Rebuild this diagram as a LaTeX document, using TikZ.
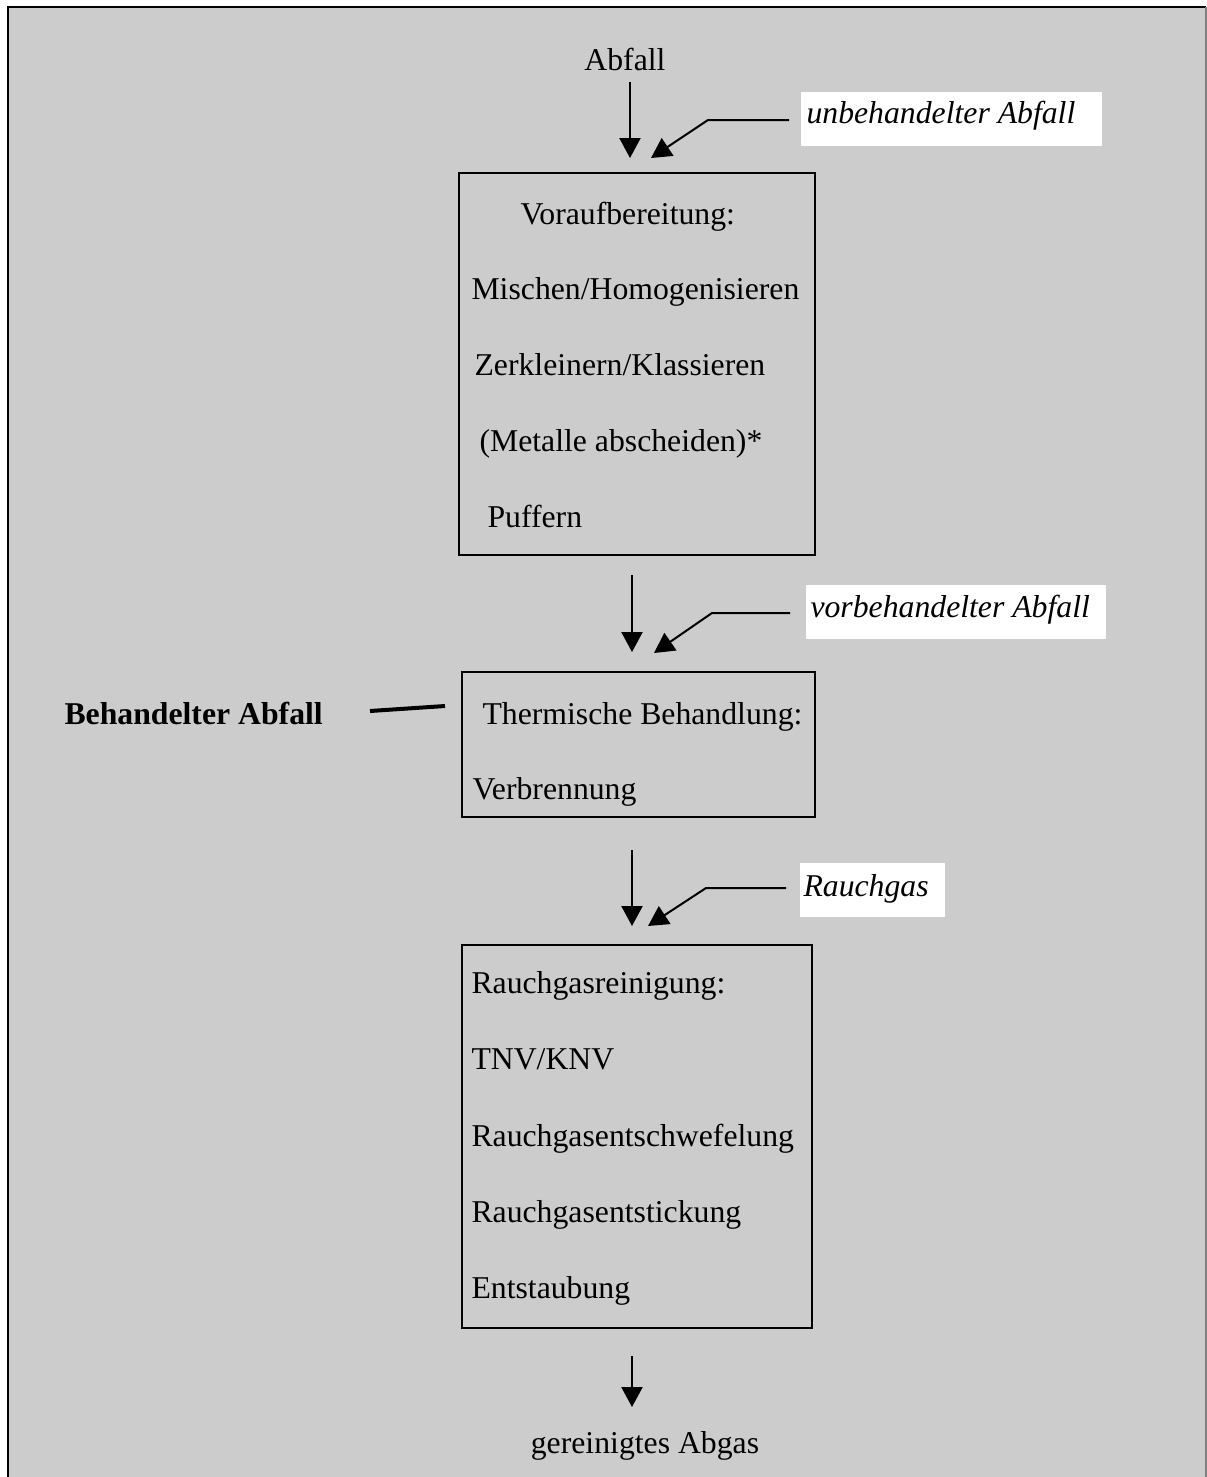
\documentclass[tikz,border=0pt]{standalone}
\usepackage{fontspec}
\setmainfont{Liberation Serif}
\usetikzlibrary{arrows.meta}
\definecolor{bggray}{RGB}{204,204,204}
\begin{document}
\begin{tikzpicture}[x=0.375pt,y=-0.375pt,
  txt/.style={anchor=base west,inner sep=0pt,font=\fontsize{11.9}{14}\selectfont},
  ctxt/.style={anchor=base,inner sep=0pt,font=\fontsize{11.9}{14}\selectfont},
  stage/.style={draw,line width=0.75pt,inner sep=0pt,outer sep=0pt,rectangle},
  labbox/.style={fill=white,inner sep=0pt,outer sep=0pt,minimum height=20.25pt},
  flow/.style={line width=0.75pt,-{Triangle[length=7.5pt,width=7.9pt]}},
  feed/.style={line width=0.75pt,-{Triangle[length=7.5pt,width=7.9pt]}}]
\useasboundingbox (0,0) rectangle (1207,1477);
\fill[white] (0,0) rectangle (1207,1477);
\fill[bggray] (8,7) rectangle (1207,1495);
\draw[line width=1.1pt] (8,1495) -- (8,7) -- (1206,7);
\draw[line width=0.4pt,gray] (1206,7) -- (1206,1495);

% stage boxes
\node[stage,minimum width=133.5pt,minimum height=143.25pt] (b1) at (637,364) {};
\node[stage,minimum width=132.4pt,minimum height=54.4pt] (b2) at (638.5,744.5) {};
\node[stage,minimum width=131.25pt,minimum height=143.6pt] (b3) at (637,1136.5) {};

% box 1 text
\node[txt] (t11) at (520,224) {Voraufbereitung:};
\node[txt] (t12) at (471,299) {Mischen/Homogenisieren};
\node[txt] (t13) at (474,375) {Zerkleinern/Klassieren};
\node[txt] (t14) at (479,451) {(Metalle abscheiden)*};
\node[txt] (t15) at (487,527) {Puffern};
% box 2 text
\node[txt] (t21) at (482,724) {Thermische Behandlung:};
\node[txt] (t22) at (472,799) {Verbrennung};
% box 3 text
\node[txt] (t31) at (471,993) {Rauchgasreinigung:};
\node[txt] (t32) at (471,1069) {TNV/KNV};
\node[txt] (t33) at (471,1146) {Rauchgasentschwefelung};
\node[txt] (t34) at (471,1222) {Rauchgasentstickung};
\node[txt] (t35) at (471,1298) {Entstaubung};

% outer texts
\node[ctxt] (abfall) at (625,70) {Abfall};
\node[ctxt] (abgas) at (645,1453) {gereinigtes Abgas};
\node[txt,font=\fontsize{11.9}{14}\selectfont\bfseries] (behand) at (64,724) {Behandelter Abfall};

% white label boxes
\node[labbox,minimum width=112.9pt] (l1) at (951.5,119) {};
\node[txt,font=\fontsize{11.9}{14}\selectfont\itshape] (l1t) at (806,123) {unbehandelter Abfall};
\node[labbox,minimum width=112.5pt] (l2) at (956,612) {};
\node[txt,font=\fontsize{11.9}{14}\selectfont\itshape] (l2t) at (810,617) {vorbehandelter Abfall};
\node[labbox,minimum width=54.4pt] (l3) at (872.5,890) {};
\node[txt,font=\fontsize{11.9}{14}\selectfont\itshape] (l3t) at (803,896) {Rauchgas};

% coordinates for arrows
\coordinate (v1s) at (630,82);  \coordinate (v1e) at (630,158);
\coordinate (v2s) at (632,575); \coordinate (v2e) at (632,652);
\coordinate (v3s) at (632,850); \coordinate (v3e) at (632,926);
\coordinate (v4s) at (632,1356); \coordinate (v4e) at (632,1407);

\coordinate (d1a) at (789,120); \coordinate (d1b) at (708,120); \coordinate (d1c) at (651,158);
\coordinate (d2a) at (790,613); \coordinate (d2b) at (712,613); \coordinate (d2c) at (654,653);
\coordinate (d3a) at (786,888); \coordinate (d3b) at (706,888); \coordinate (d3c) at (648,926);

\coordinate (ba) at (370,711); \coordinate (bb) at (445,706);

\draw[flow] (v1s) -- (v1e);
\draw[flow] (v2s) -- (v2e);
\draw[flow] (v3s) -- (v3e);
\draw[flow] (v4s) -- (v4e);

\draw[feed] (d1a) -- (d1b) -- (d1c);
\draw[feed] (d2a) -- (d2b) -- (d2c);
\draw[feed] (d3a) -- (d3b) -- (d3c);

\draw[line width=1.5pt] (ba) -- (bb);
\end{tikzpicture}
\end{document}
